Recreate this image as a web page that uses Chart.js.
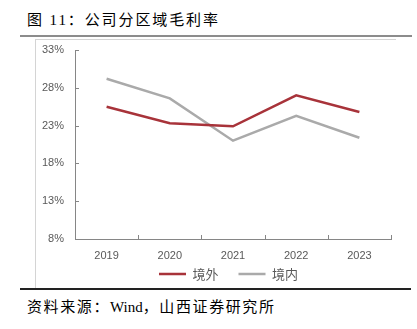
<!DOCTYPE html>
<html>
<head>
<meta charset="utf-8">
<script src="https://cdn.jsdelivr.net/npm/chart.js@4"></script>
<style>
  body { margin: 0; width: 417px; height: 329px; background: #fff; position: relative; overflow: hidden; }
  .txt { position: absolute; font-family: "Liberation Serif", "Noto Sans CJK SC", serif; font-size: 15px; color: #000; white-space: nowrap; }
  .line { position: absolute; }
  #wrap { position: absolute; left: 36px; top: 40px; width: 370px; height: 268px; }
</style>
</head>
<body>
<div class="txt" style="left:27px; top:8px; letter-spacing:1.9px;">图 11：公司分区域毛利率</div>
<div class="line" style="left:20px; top:35px; width:392px; height:2px; background:#8c8c8c;"></div>
<div class="line" style="left:35px; top:39px; width:361px; height:1px; background:#d4d4d4;"></div>
<div class="line" style="left:35px; top:39px; width:1px; height:250px; background:#d4d4d4;"></div>
<div class="line" style="left:20px; top:288px; width:391px; height:1.5px; background:#222;"></div>
<div class="txt" style="left:27px; top:295px; letter-spacing:1.6px;">资料来源：<span style="letter-spacing:0">Wind</span>，山西证券研究所</div>
<div id="wrap"><canvas id="marginChart"></canvas></div>
<script>
const years = ["2019", "2020", "2021", "2022", "2023"];
const overseas = [25.5, 23.3, 22.9, 27.0, 24.8];   // 境外
const domestic = [29.2, 26.6, 21.0, 24.3, 21.4];   // 境内
const yTicks = [8, 13, 18, 23, 28, 33];

// tick marks point into the plot, like the source chart
const innerTicks = {
  id: "innerTicks",
  afterLayout(chart) {
    // nudge legend: centred under the plot, closer to the axis labels
    chart.legend.left += 30;
    chart.legend.top -= 17.5;
  },
  afterDraw(chart) {
    const { ctx, chartArea, scales } = chart;
    const x = scales.x, y = scales.y;
    ctx.save();
    ctx.strokeStyle = "#868686";
    ctx.lineWidth = 1;
    ctx.beginPath();
    y.ticks.forEach((t) => {
      const py = Math.round(y.getPixelForValue(t.value)) + 0.5;
      ctx.moveTo(chartArea.left, py);
      ctx.lineTo(chartArea.left + 4, py);
    });
    const step = x.getPixelForValue(1) - x.getPixelForValue(0);
    years.forEach((_, i) => {
      const px = Math.round(x.getPixelForValue(i) + step / 2) + 0.5;
      ctx.moveTo(px, chartArea.bottom);
      ctx.lineTo(px, chartArea.bottom - 4);
    });
    ctx.stroke();
    ctx.restore();
  },
};

const ctx = document.getElementById("marginChart").getContext("2d");

let marginChart = new Chart(ctx, {
  type: "line",
  data: {
    labels: years,
    datasets: [
      { label: "境外", data: overseas, borderColor: "#a8333a", backgroundColor: "#a8333a", borderWidth: 2.5, pointRadius: 0, tension: 0 },
      { label: "境内", data: domestic, borderColor: "#aaaaaa", backgroundColor: "#aaaaaa", borderWidth: 2.5, pointRadius: 0, tension: 0 },
    ],
  },
  plugins: [innerTicks],
  options: {
    responsive: true,
    maintainAspectRatio: false,
    animation: false,
    layout: { padding: { left: 0, right: 15, top: 10, bottom: 0 } },
    plugins: {
      tooltip: { enabled: false },
      legend: {
        position: "bottom",
        labels: {
          usePointStyle: true,
          pointStyle: "line",
          pointStyleWidth: 27,
          padding: 20,
          color: "#595959",
          font: { family: "Noto Sans CJK SC", size: 13 },
        },
      },
    },
    scales: {
      x: {
        offset: true,
        afterFit: (axis) => { axis.height = 26; },
        grid: { display: false, drawTicks: false },
        border: { color: "#868686" },
        ticks: { color: "#595959", font: { family: "Liberation Sans", size: 11 }, padding: 10 },
      },
      y: {
        min: yTicks[0],
        max: yTicks[yTicks.length - 1],
        afterBuildTicks: (axis) => { axis.ticks = yTicks.map((v) => ({ value: v })); },
        afterFit: (axis) => { axis.width = 39; axis.paddingTop = 0; axis.paddingBottom = 0; },
        grid: { display: false, drawTicks: false },
        border: { color: "#868686" },
        ticks: { color: "#595959", font: { family: "Liberation Sans", size: 11 }, padding: 11, callback: (v) => v + "%" },
      },
    },
  },
});
</script>
</body>
</html>
